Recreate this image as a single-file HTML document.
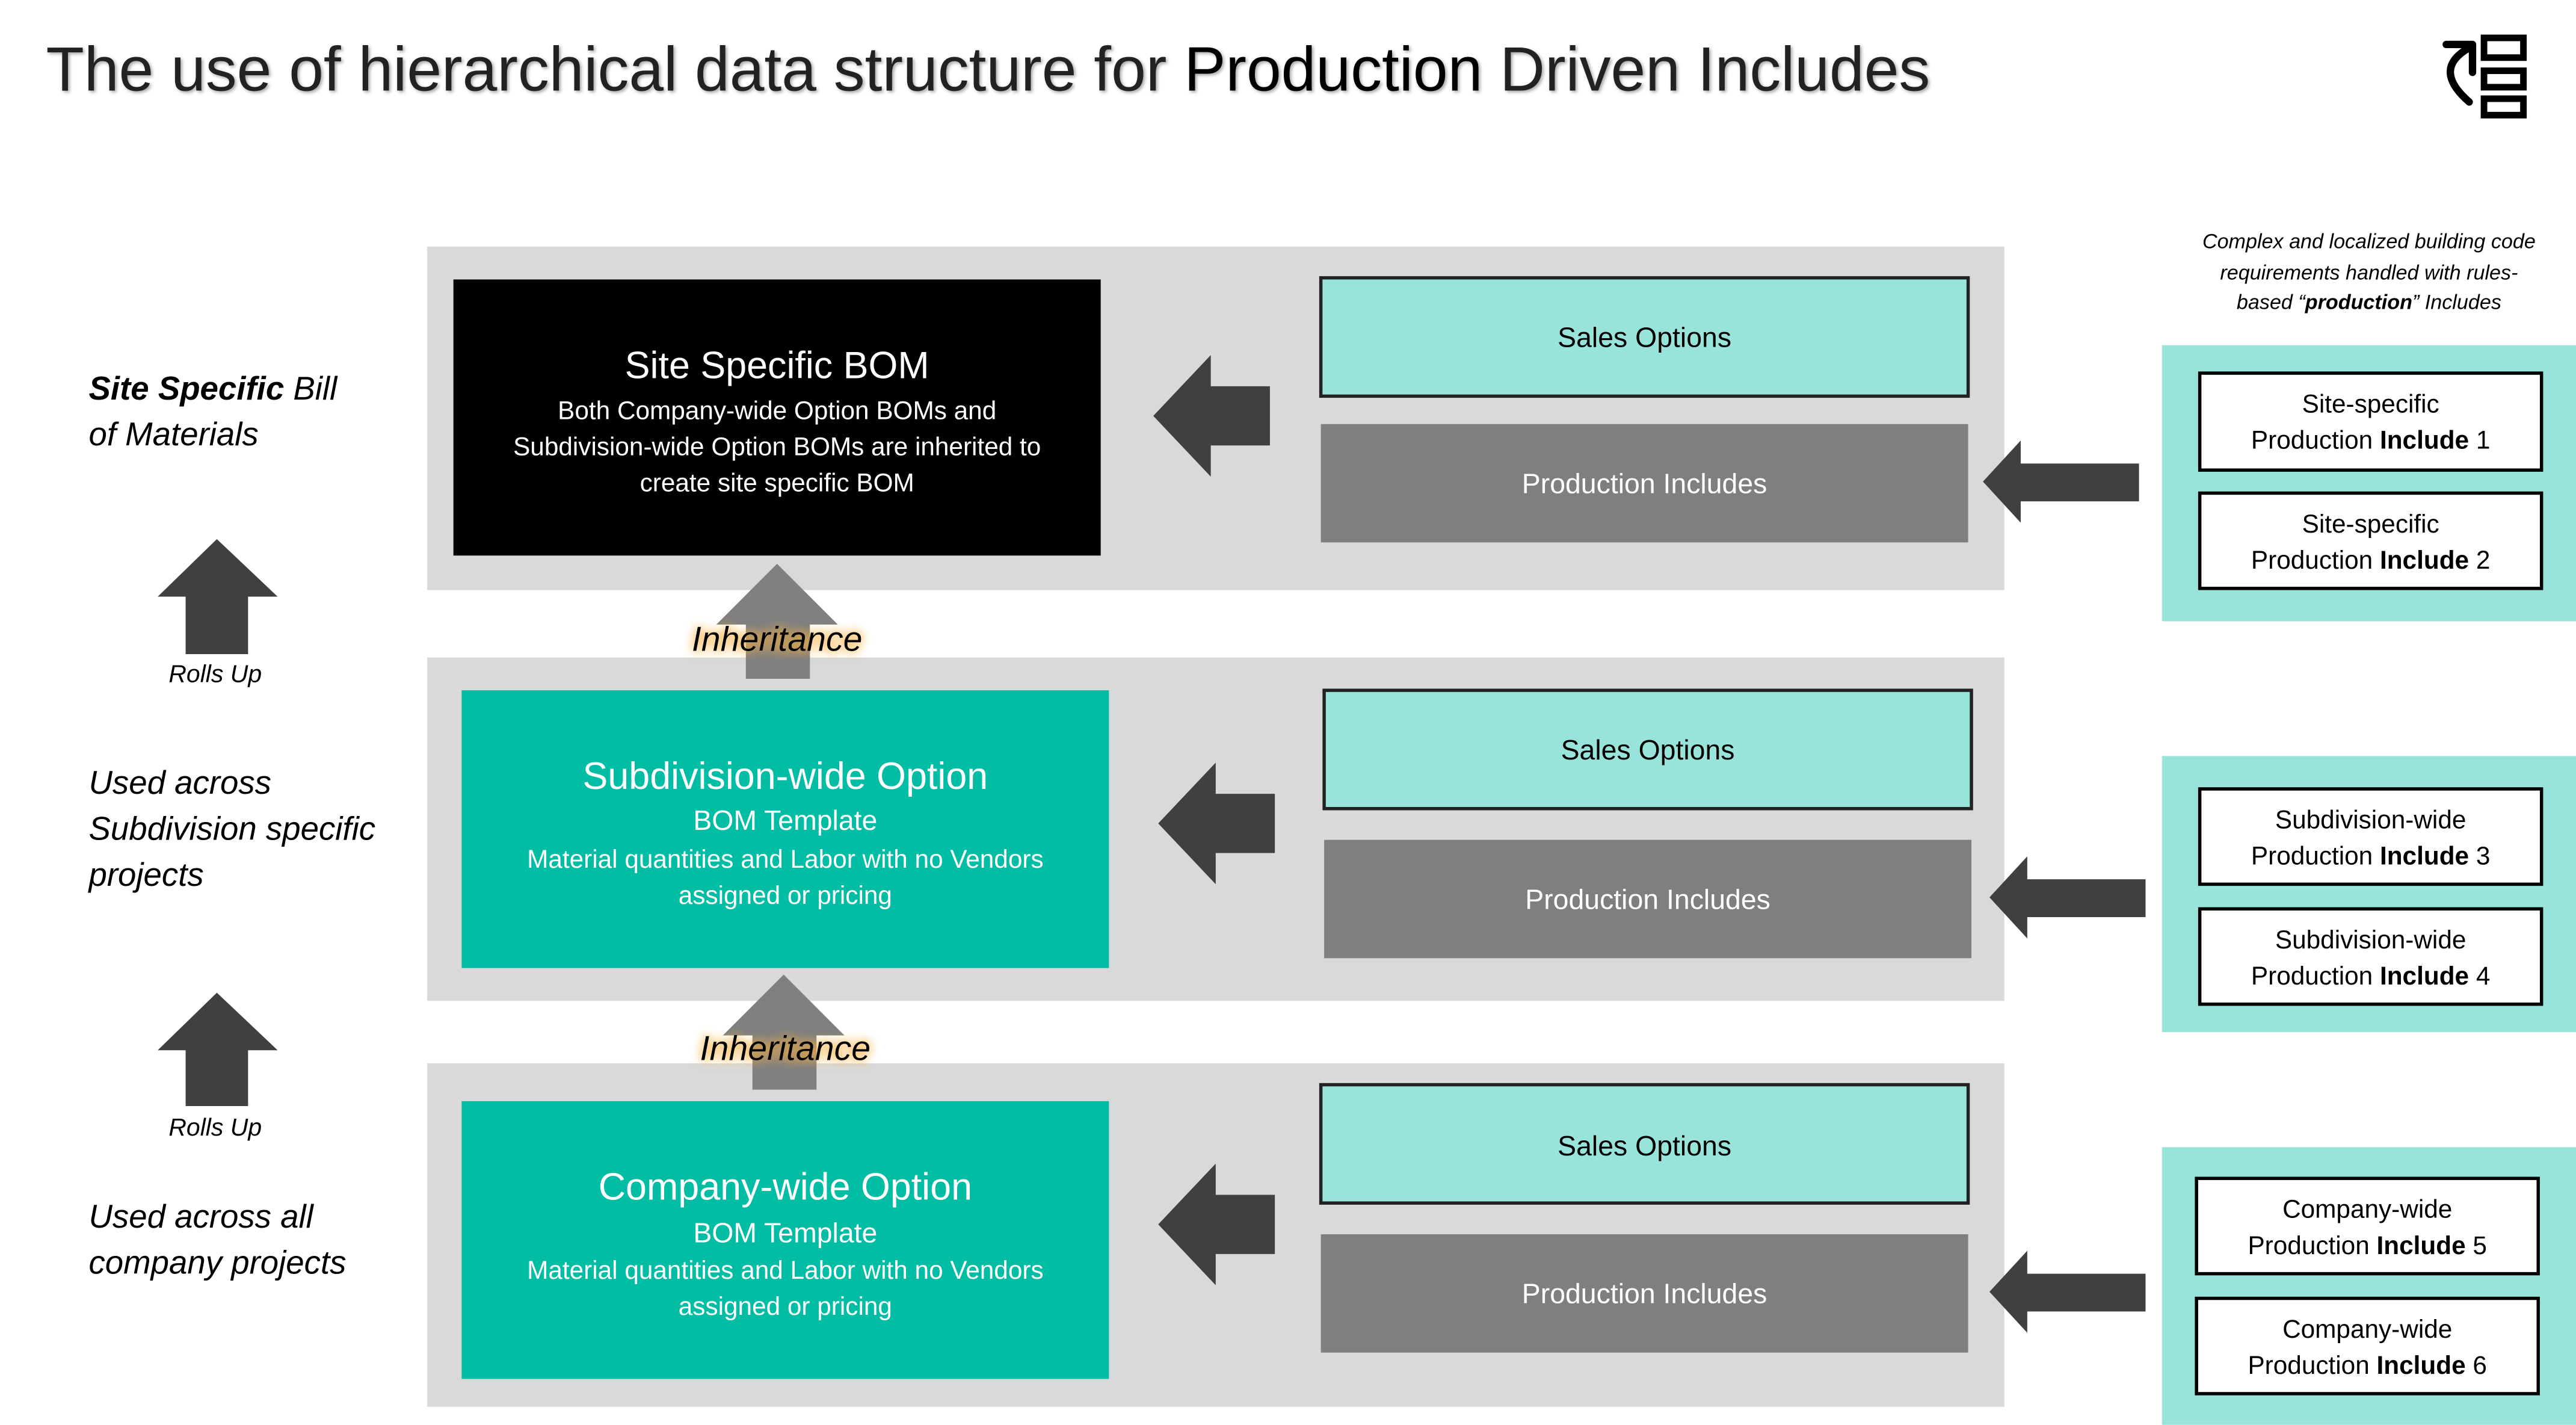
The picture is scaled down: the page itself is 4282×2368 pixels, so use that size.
<!DOCTYPE html>
<html><head><meta charset="utf-8"><style>html,body{margin:0;padding:0;background:#fff}svg{display:block}text{font-family:"Liberation Sans",sans-serif}</style></head>
<body>
<svg width="4282" height="2368" viewBox="0 0 1568 867" xmlns="http://www.w3.org/2000/svg">
<defs>
<filter id="glow" x="-20%" y="-50%" width="140%" height="200%"><feGaussianBlur in="SourceAlpha" stdDeviation="3" result="b"/><feFlood flood-color="#f5b041" flood-opacity="0.9"/><feComposite in2="b" operator="in" result="g"/><feMerge><feMergeNode in="g"/><feMergeNode in="g"/><feMergeNode in="SourceGraphic"/></feMerge></filter>
<filter id="sh"><feDropShadow dx="1" dy="1" stdDeviation="1" flood-opacity="0.35"/></filter>
</defs>
<text x="28" y="55" font-size="38" fill="#222" filter="url(#sh)">The use of hierarchical data structure for <tspan fill="#000">Production</tspan> Driven Includes</text>
<!-- icon -->
<g stroke="#000" fill="none">
<path d="M1503 62 Q1480 42 1503 29" stroke-width="4.5" stroke-linecap="round"/>
<path d="M1489 27 L1505 27 L1505 44" stroke-width="4.5" stroke-linecap="round" stroke-linejoin="round"/>
<rect x="1512" y="23" width="24" height="12" stroke-width="4"/>
<rect x="1512" y="43" width="24" height="10" stroke-width="4"/>
<rect x="1512" y="60" width="24" height="10" stroke-width="4"/>
</g>
<!-- bands -->
<rect x="260" y="150" width="960" height="209" fill="#d9d9d9"/>
<rect x="260" y="400" width="960" height="209" fill="#d9d9d9"/>
<rect x="260" y="647" width="960" height="209" fill="#d9d9d9"/>
<!-- inheritance arrows -->
<polygon points="473,343 510,380 493,380 493,413 454,413 454,380 436,380" fill="#808080"/>
<polygon points="477,593 514,630 497,630 497,663 458,663 458,630 440,630" fill="#808080"/>
<!-- main boxes -->
<rect x="276" y="170" width="394" height="168" fill="#000"/>
<text x="473" y="230" font-size="23" fill="#fff" text-anchor="middle">Site Specific BOM</text>
<text x="473" y="255" font-size="15.5" fill="#fff" text-anchor="middle">Both Company-wide Option BOMs and</text>
<text x="473" y="277" font-size="15.5" fill="#fff" text-anchor="middle">Subdivision-wide Option BOMs are inherited to</text>
<text x="473" y="299" font-size="15.5" fill="#fff" text-anchor="middle">create site specific BOM</text>
<rect x="281" y="420" width="394" height="169" fill="#00bda3"/>
<text x="478" y="480" font-size="23" fill="#fff" text-anchor="middle">Subdivision-wide Option</text>
<text x="478" y="505" font-size="17" fill="#fff" text-anchor="middle">BOM Template</text>
<text x="478" y="528" font-size="15.5" fill="#fff" text-anchor="middle">Material quantities and Labor with no Vendors</text>
<text x="478" y="550" font-size="15.5" fill="#fff" text-anchor="middle">assigned or pricing</text>
<rect x="281" y="670" width="394" height="169" fill="#00bda3"/>
<text x="478" y="730" font-size="23" fill="#fff" text-anchor="middle">Company-wide Option</text>
<text x="478" y="756" font-size="17" fill="#fff" text-anchor="middle">BOM Template</text>
<text x="478" y="778" font-size="15.5" fill="#fff" text-anchor="middle">Material quantities and Labor with no Vendors</text>
<text x="478" y="800" font-size="15.5" fill="#fff" text-anchor="middle">assigned or pricing</text>
<g font-size="21" font-style="italic" text-anchor="middle" filter="url(#glow)">
<text x="473" y="396">Inheritance</text>
<text x="478" y="645">Inheritance</text>
</g>
<!-- sales / production -->
<g stroke="#222" stroke-width="2" fill="#99e4da">
<rect x="804" y="169" width="394" height="72"/>
<rect x="806" y="420" width="394" height="72"/>
<rect x="804" y="660" width="394" height="72"/>
</g>
<g fill="#7f7f7f">
<rect x="804" y="258" width="394" height="72"/>
<rect x="806" y="511" width="394" height="72"/>
<rect x="804" y="751" width="394" height="72"/>
</g>
<g font-size="17" text-anchor="middle">
<text x="1001" y="211">Sales Options</text>
<text x="1003" y="462">Sales Options</text>
<text x="1001" y="703">Sales Options</text>
<text x="1001" y="300" fill="#fff">Production Includes</text>
<text x="1003" y="553" fill="#fff">Production Includes</text>
<text x="1001" y="793" fill="#fff">Production Includes</text>
</g>
<!-- left arrows -->
<g fill="#404040">
<polygon points="702,253 737,216 737,235 773,235 773,271 737,271 737,290"/>
<polygon points="705,501 740,464 740,483 776,483 776,519 740,519 740,538"/>
<polygon points="705,745 740,708 740,727 776,727 776,763 740,763 740,782"/>
<polygon points="1207,293 1230,268 1230,282 1302,282 1302,305 1230,305 1230,318"/>
<polygon points="1211,546 1234,521 1234,535 1306,535 1306,558 1234,558 1234,571"/>
<polygon points="1211,786 1234,761 1234,775 1306,775 1306,798 1234,798 1234,811"/>
<polygon points="132,328 169,363 151,363 151,398 113,398 113,363 96,363"/>
<polygon points="132,604 169,639 151,639 151,673 113,673 113,639 96,639"/>
</g>
<g font-size="15" font-style="italic" text-anchor="middle"><text x="131" y="415">Rolls Up</text><text x="131" y="691">Rolls Up</text></g>
<g font-size="20" font-style="italic">
<text x="54" y="243"><tspan font-weight="bold">Site Specific</tspan> Bill</text>
<text x="54" y="271">of Materials</text>
<text x="54" y="483">Used across</text>
<text x="54" y="511">Subdivision specific</text>
<text x="54" y="539">projects</text>
<text x="54" y="747">Used across all</text>
<text x="54" y="775">company projects</text>
</g>
<!-- right panels -->
<g font-size="12.5" font-style="italic" text-anchor="middle">
<text x="1442" y="151">Complex and localized building code</text>
<text x="1442" y="170">requirements handled with rules-</text>
<text x="1442" y="188">based “<tspan font-weight="bold">production</tspan>” Includes</text>
</g>
<g fill="#99e4da"><rect x="1316" y="210" width="252" height="168"/><rect x="1316" y="460" width="252" height="168"/><rect x="1316" y="698" width="252" height="169"/></g>
<g fill="#fff" stroke="#000" stroke-width="2">
<rect x="1339" y="227" width="208" height="59"/><rect x="1339" y="300" width="208" height="58"/>
<rect x="1339" y="480" width="208" height="58"/><rect x="1339" y="553" width="208" height="58"/>
<rect x="1337" y="717" width="208" height="58"/><rect x="1337" y="790" width="208" height="58"/>
</g>
<g font-size="15.5" text-anchor="middle">
<text x="1443" y="251">Site-specific</text><text x="1443" y="273">Production <tspan font-weight="bold">Include</tspan> 1</text>
<text x="1443" y="324">Site-specific</text><text x="1443" y="346">Production <tspan font-weight="bold">Include</tspan> 2</text>
<text x="1443" y="504">Subdivision-wide</text><text x="1443" y="526">Production <tspan font-weight="bold">Include</tspan> 3</text>
<text x="1443" y="577">Subdivision-wide</text><text x="1443" y="599">Production <tspan font-weight="bold">Include</tspan> 4</text>
<text x="1441" y="741">Company-wide</text><text x="1441" y="763">Production <tspan font-weight="bold">Include</tspan> 5</text>
<text x="1441" y="814">Company-wide</text><text x="1441" y="836">Production <tspan font-weight="bold">Include</tspan> 6</text>
</g>
</svg>
</body></html>
